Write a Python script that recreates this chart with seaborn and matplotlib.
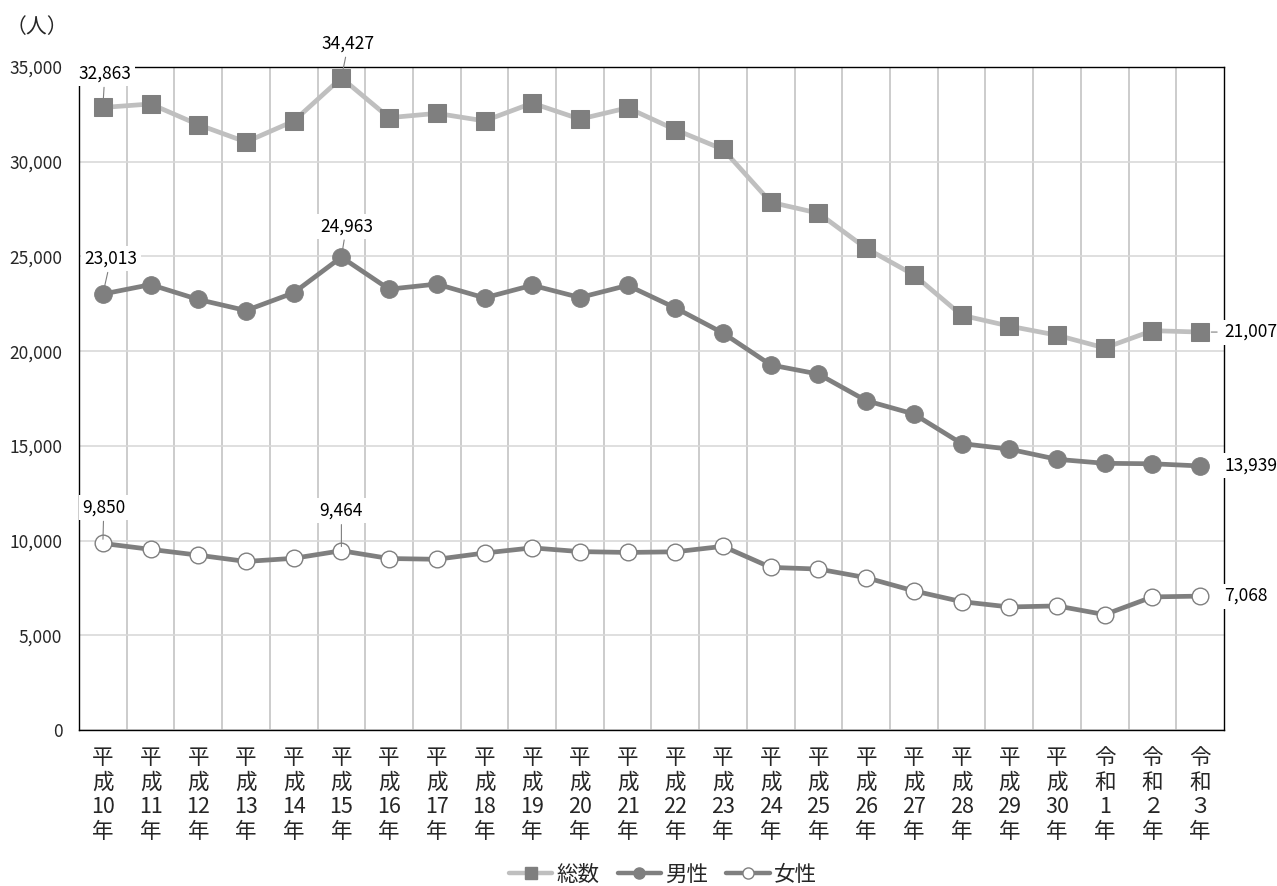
import matplotlib
matplotlib.use("Agg")
import matplotlib.pyplot as plt
import matplotlib.transforms as mtransforms
import seaborn as sns
import pandas as pd
import numpy as np
from matplotlib.ticker import FixedLocator, FuncFormatter, MultipleLocator
from matplotlib.lines import Line2D

years = ["平\n成\n10\n年", "平\n成\n11\n年", "平\n成\n12\n年", "平\n成\n13\n年",
         "平\n成\n14\n年", "平\n成\n15\n年", "平\n成\n16\n年", "平\n成\n17\n年",
         "平\n成\n18\n年", "平\n成\n19\n年", "平\n成\n20\n年", "平\n成\n21\n年",
         "平\n成\n22\n年", "平\n成\n23\n年", "平\n成\n24\n年", "平\n成\n25\n年",
         "平\n成\n26\n年", "平\n成\n27\n年", "平\n成\n28\n年", "平\n成\n29\n年",
         "平\n成\n30\n年", "令\n和\n1\n年", "令\n和\n２\n年", "令\n和\n３\n年"]

total = [32863, 33048, 31957, 31042, 32143, 34427, 32325, 32552, 32155, 33093,
         32249, 32845, 31690, 30651, 27858, 27283, 25427, 24025, 21897, 21321,
         20840, 20169, 21081, 21007]
male = [23013, 23512, 22727, 22144, 23080, 24963, 23272, 23540, 22813, 23478,
        22831, 23472, 22283, 20955, 19273, 18787, 17386, 16681, 15121, 14826,
        14290, 14078, 14055, 13939]
female = [9850, 9536, 9230, 8898, 9063, 9464, 9053, 9012, 9342, 9615,
          9418, 9373, 9407, 9696, 8585, 8496, 8041, 7344, 6776, 6495,
          6550, 6091, 7026, 7068]

series_names = ["総数", "男性", "女性"]

sns.set_theme(style="white")
plt.rcParams["font.family"] = ["Noto Sans CJK JP", "DejaVu Sans"]

fig = plt.figure(figsize=(12.77, 8.86), dpi=100)
ax = fig.add_axes([79 / 1277, 1 - 730 / 886, (1224 - 79) / 1277, (730 - 67) / 886])

x = np.arange(len(years))
df = pd.DataFrame({"x": np.tile(x, 3),
                   "value": total + male + female,
                   "series": np.repeat(series_names, len(years))})

styles = {
    "総数": dict(color="#bfbfbf", marker="s", markersize=12.7, markerfacecolor="#7f7f7f",
               markeredgecolor="#7f7f7f", linewidth=3.4),
    "男性": dict(color="#7f7f7f", marker="o", markersize=12.7, markerfacecolor="#7f7f7f",
               markeredgecolor="#7f7f7f", linewidth=3.4),
    "女性": dict(color="#7f7f7f", marker="o", markersize=12.0, markerfacecolor="white",
               markeredgecolor="#7f7f7f", markeredgewidth=1.0, linewidth=3.4),
}
for name in series_names:
    sub = df[df["series"] == name]
    sns.lineplot(data=sub, x="x", y="value", ax=ax, legend=False, zorder=3,
                 **styles[name])

ax.set_xlim(-0.5, len(years) - 0.5)
ax.set_ylim(0, 35000)
ax.yaxis.set_major_locator(MultipleLocator(5000))
ax.yaxis.set_major_formatter(FuncFormatter(lambda v, p: f"{int(v):,}"))
ax.set_xticks(x)
ax.set_xticklabels(years, fontsize=15.5, linespacing=1.15, va="top")
shift = mtransforms.ScaledTranslation(-9 / 100, 0, fig.dpi_scale_trans)
for lab in ax.get_xticklabels():
    lab.set_transform(lab.get_transform() + shift)
ax.xaxis.set_minor_locator(FixedLocator(np.arange(0.5, len(years) - 0.5, 1)))
ax.grid(False)
ax.grid(axis="y", which="major", color="#d9d9d9", linewidth=1.2, zorder=0)
ax.grid(axis="x", which="minor", color="#bfbfbf", linewidth=1.1, zorder=0)
ax.tick_params(axis="both", which="both", length=0)
ax.tick_params(axis="y", labelsize=12.5, pad=12)
ax.tick_params(axis="x", pad=12.5)
ax.set_xlabel("")
ax.set_ylabel("")
for s in ax.spines.values():
    s.set_visible(True)
    s.set_color("#000000")
    s.set_linewidth(1.0)

bbox = dict(boxstyle="square,pad=0.2", fc="white", ec="none")
arrow = dict(arrowstyle="-", color="#7f7f7f", lw=0.8, shrinkA=1, shrinkB=3)
LFS = 12.5

def label(i, vals, dx, dy):
    ax.annotate(f"{vals[i]:,}", xy=(x[i], vals[i]), xytext=(dx, dy),
                textcoords="offset pixels", ha="center", va="center", fontsize=LFS,
                color="#000000", bbox=bbox, zorder=10, annotation_clip=False,
                arrowprops=arrow)

label(0, total, 2, 34)
label(5, total, 7, 34.5)
label(0, male, 8, 35.5)
label(5, male, 5, 31)
label(0, female, 1, 36)
label(5, female, 0, 40)
ax.annotate("", xy=(x[23], total[23]), xytext=(17, 0), textcoords="offset pixels",
            arrowprops=dict(arrowstyle="-", color="#7f7f7f", lw=0.8, shrinkA=0, shrinkB=8),
            annotation_clip=False)
for vals in (total, male, female):
    ax.annotate(f"{vals[23]:,}", xy=(x[23], vals[23]), xytext=(24, 0),
                textcoords="offset pixels", ha="left", va="center", fontsize=LFS,
                color="#000000", bbox=bbox, zorder=10, annotation_clip=False)

fig.text(37 / 1277, 1 - 27 / 886, "（人）", ha="center", va="center", fontsize=15)

handles = [Line2D([], [], **styles[n]) for n in series_names]
handles[0].set_markersize(8.5); handles[1].set_markersize(8); handles[2].set_markersize(8)
for h in handles:
    h.set_linewidth(3.2)
leg = fig.legend(handles, series_names, loc="center", bbox_to_anchor=(663 / 1277, 1 - 875 / 886),
                 ncol=3, frameon=False, handlelength=2.0, handletextpad=0.2,
                 columnspacing=0.85, borderpad=0, prop={"size": 15.5})

fig.savefig("out.png", dpi=100)
